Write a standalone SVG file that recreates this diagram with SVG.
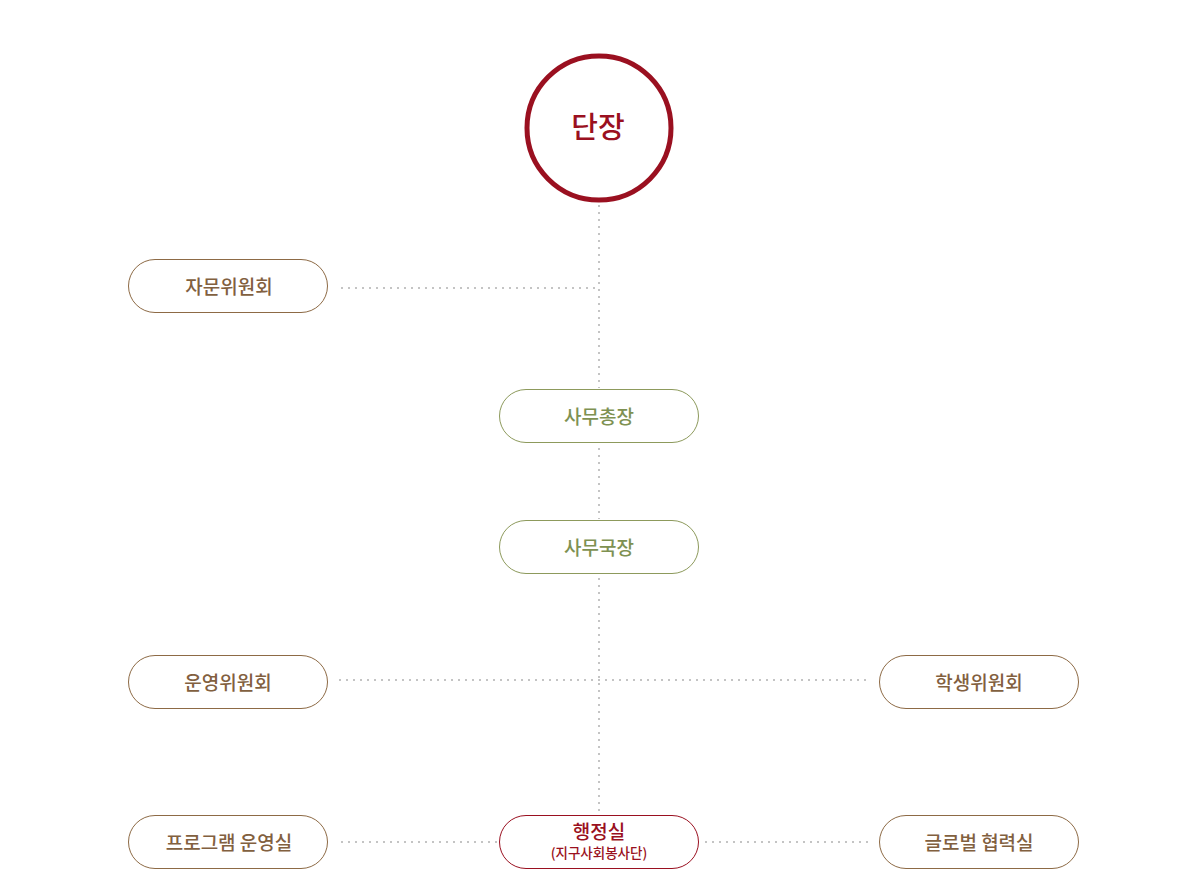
<svg xmlns="http://www.w3.org/2000/svg" width="1191" height="879" viewBox="0 0 1191 879">
<style>
.dot{stroke:#c4c4c4;stroke-width:2;stroke-dasharray:2 5;fill:none}
.box{fill:#fff;stroke-width:1}
.brown{stroke:#8d6a45}
.green{stroke:#8d9a5c}
.red{stroke:#9a1020}
text{font-family:"Noto Sans CJK KR","Noto Sans",sans-serif;text-anchor:middle;font-weight:500}
.tb{fill:#82603f;font-size:19px}
.tg{fill:#7e9152;font-size:19px}
.tr{fill:#9a1020}
</style>
<rect width="1191" height="879" fill="#fff"/>
<g id="connectors">
<line class="dot" x1="599" y1="205" x2="599" y2="388"/>
<line class="dot" x1="599" y1="448" x2="599" y2="519"/>
<line class="dot" x1="599" y1="578" x2="599" y2="814"/>
<line class="dot" x1="341" y1="288" x2="598" y2="288"/>
<line class="dot" x1="339" y1="680" x2="868" y2="680"/>
<line class="dot" x1="341" y1="842" x2="498" y2="842"/>
<line class="dot" x1="705" y1="842" x2="868" y2="842"/>
</g>
<g id="danjang">
<circle cx="599" cy="128" r="72" fill="#fff" stroke="#9a1020" stroke-width="5"/>
<text class="tr" x="598" y="138" font-size="29" font-weight="700">단장</text>
</g>
<g id="jamun">
<rect class="box brown" x="128.5" y="259.5" width="199" height="53" rx="26.5"/>
<text class="tb" x="229" y="293.5">자문위원회</text>
</g>
<g id="samuchongjang">
<rect class="box green" x="499.5" y="389.5" width="199" height="53" rx="26.5"/>
<text class="tg" x="599" y="423.5">사무총장</text>
</g>
<g id="samugukjang">
<rect class="box green" x="499.5" y="520.5" width="199" height="53" rx="26.5"/>
<text class="tg" x="599" y="554.5">사무국장</text>
</g>
<g id="unyeong">
<rect class="box brown" x="128.5" y="655.5" width="199" height="53" rx="26.5"/>
<text class="tb" x="228" y="689.5">운영위원회</text>
</g>
<g id="haksaeng">
<rect class="box brown" x="879.5" y="655.5" width="199" height="53" rx="26.5"/>
<text class="tb" x="979" y="689.5">학생위원회</text>
</g>
<g id="program">
<rect class="box brown" x="128.5" y="815.5" width="199" height="53" rx="26.5"/>
<text class="tb" x="229" y="849.5">프로그램 운영실</text>
</g>
<g id="haengjeong">
<rect class="box red" x="499.5" y="815.5" width="199" height="53" rx="26.5"/>
<text class="tr" x="599" y="838.5" font-size="19">행정실</text>
<text class="tr" x="599" y="858" font-size="13.5" font-weight="400">(지구사회봉사단)</text>
</g>
<g id="global">
<rect class="box brown" x="879.5" y="815.5" width="199" height="53" rx="26.5"/>
<text class="tb" x="979" y="849.5">글로벌 협력실</text>
</g>
</svg>
